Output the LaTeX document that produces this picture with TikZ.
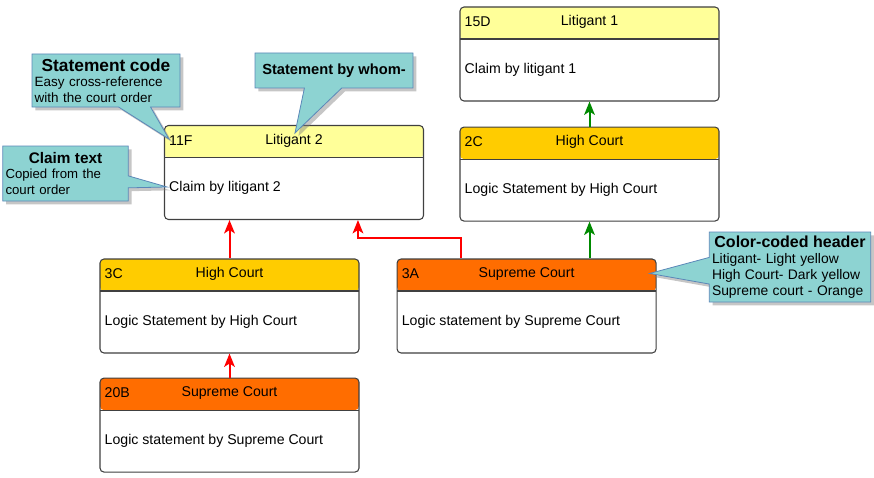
\documentclass[tikz,border=0pt]{standalone}
\usepackage{fontspec}
\setmainfont{Liberation Sans}
\usetikzlibrary{positioning}
\usetikzlibrary{calc}
\usetikzlibrary{shapes.callouts}
\usetikzlibrary{shadows}
\usetikzlibrary{arrows.meta}
\definecolor{litigant}{HTML}{FFFF99}
\definecolor{highcourt}{HTML}{FFCC00}
\definecolor{supreme}{HTML}{FF6D00}
\definecolor{note}{HTML}{8DD3D2}
\definecolor{noteline}{HTML}{5B87B8}
\definecolor{linkred}{HTML}{FF0000}
\definecolor{linkgreen}{HTML}{008A00}
\tikzstyle{card} = [draw=black!75, line width=0.8pt, rounded corners=3pt, fill=white, minimum width=194.25pt, minimum height=70.5pt, inner sep=0pt]
\tikzstyle{cardtxt} = [inner sep=0pt, font=\fontsize{10.6}{12}\selectfont]
\tikzstyle{note} = [rectangle callout, fill=note, draw=noteline, line width=0.6pt, inner sep=2pt, align=left, drop shadow={opacity=0.45, shadow xshift=2.5pt, shadow yshift=-2.5pt}]
\tikzset{link/.style={draw=#1, line width=1.5pt, -{Stealth[length=10pt,width=8pt,inset=2.5pt]}}}
\tikzset{header/.style={path picture={
  \fill[#1] (path picture bounding box.north west) rectangle ([yshift=-24pt]path picture bounding box.north east);
  \draw[black!75, line width=0.8pt] ([yshift=-24pt]path picture bounding box.north west) -- ([yshift=-24pt]path picture bounding box.north east);}}}
% code, party, statement
\newcommand{\cardtext}[4]{%
  \node[cardtxt, anchor=west] (#1-code) at ([shift={(5,15.5)}]#1.north west) {#2};
  \node[cardtxt] (#1-whom) at ([yshift=-11.6pt]#1.north) {#3};
  \node[cardtxt, anchor=west] (#1-text) at ([shift={(5,15.5)}]#1.west) {#4};}

\begin{document}
\begin{tikzpicture}[x=0.75pt,y=-0.75pt]
    \useasboundingbox (0,0) rectangle (874,478);

    \node [card, header=litigant] (c15D) at (589.5,54) {};
    \node [card, header=highcourt, below=18.75pt of c15D] (c2C) {};
    \node [card, header=litigant] (c11F) at (294,172.5) {};
    \node [card, header=highcourt] (c3C) at (229.5,306) {};
    \node [card, header=supreme, right=27.75pt of c3C] (c3A) {};
    \node [card, header=supreme, below=18pt of c3C] (c20B) {};

    \cardtext{c15D}{15D}{Litigant 1}{Claim by litigant 1}
    \cardtext{c2C}{2C}{High Court}{Logic Statement by High Court}
    \cardtext{c11F}{11F}{Litigant 2}{Claim by litigant 2}
    \cardtext{c3C}{3C}{High Court}{Logic Statement by High Court}
    \cardtext{c3A}{3A}{Supreme Court}{Logic statement by Supreme Court}
    \cardtext{c20B}{20B}{Supreme Court}{Logic statement by Supreme Court}

    \draw [link=linkred] (c20B.north) -- (c3C.south);
    \draw [link=linkred] (c3C.north) -- (c3C.north |- c11F.south);
    \draw [link=linkred] ($(c3A.north west)+(64,0)$) -- ++(0,-20) -| ($(c11F.south west)+(194,0)$);
    \draw [link=linkgreen] (c2C.south |- c3A.north) -- (c2C.south);
    \draw [link=linkgreen] (c2C.north) -- (c15D.south);

    % notes
    \node [note, text width=107pt, minimum height=39.75pt, callout pointer width=24pt,
           callout absolute pointer={($(c11F.north west)+(5,14)$)}] (nCode) at (106,80.5)
          {{\centering\fontsize{13}{15}\bfseries Statement code\par}
           \fontsize{10.1}{11.4}\selectfont Easy cross-reference\\with the court order};
    \node [note, minimum width=118.5pt, minimum height=26.25pt, callout pointer width=28pt,
           font=\fontsize{11}{13}\bfseries,
           callout absolute pointer={($(c11F.north)+(1,8)$)}] (nWhom) at (334,70.5)
          {Statement by whom-};
    \node [note, text width=90pt, minimum height=41.25pt, callout pointer width=9pt,
           callout absolute pointer={($(c11F.west)+(3,14.5)$)}] (nClaim) at (65.5,173.5)
          {{\centering\fontsize{11.5}{13}\bfseries Claim text\par}
           \fontsize{9.9}{10.6}\selectfont Copied from the\\court order};
    \node [note, text width=117pt, minimum height=52.5pt, callout pointer width=20pt,
           callout absolute pointer={($(c3A.north east)+(-7,15)$)}] (nColor) at (790,267)
          {{\centering\fontsize{12}{13.5}\bfseries Color-coded header\par}
           \fontsize{10.4}{12}\selectfont Litigant- Light yellow\\High Court- Dark yellow\\Supreme court - Orange};
\end{tikzpicture}
\end{document}
